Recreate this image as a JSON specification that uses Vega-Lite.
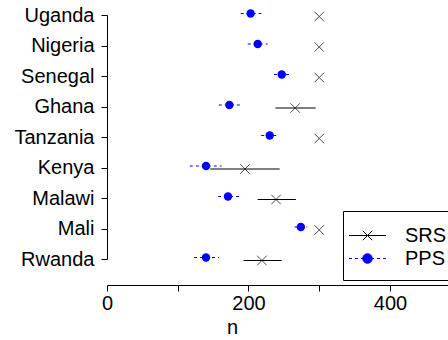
{
  "$schema": "https://vega.github.io/schema/vega-lite/v6.json",
  "autosize": "none",
  "width": 341,
  "height": 285,
  "padding": {"left": 107, "top": 0, "right": 0, "bottom": 55},
  "background": "white",
  "config": {
    "view": {"stroke": null},
    "font": "Liberation Sans",
    "axis": {
      "labelFont": "Liberation Sans",
      "titleFont": "Liberation Sans",
      "labelFontSize": 20,
      "titleFontSize": 20,
      "titleFontWeight": "normal",
      "labelColor": "black",
      "titleColor": "black",
      "domainColor": "black",
      "tickColor": "black",
      "domainWidth": 1,
      "tickWidth": 1,
      "tickSize": 6,
      "grid": false
    },
    "legend": {
      "labelFont": "Liberation Sans",
      "labelFontSize": 20,
      "labelColor": "black"
    }
  },
  "data": {
    "values": [
      {"country": "Uganda", "method": "SRS", "n": 300, "lo": 300, "hi": 300},
      {"country": "Nigeria", "method": "SRS", "n": 300, "lo": 300, "hi": 300},
      {"country": "Senegal", "method": "SRS", "n": 300, "lo": 300, "hi": 300},
      {"country": "Ghana", "method": "SRS", "n": 266, "lo": 238, "hi": 295},
      {"country": "Tanzania", "method": "SRS", "n": 300, "lo": 300, "hi": 300},
      {"country": "Kenya", "method": "SRS", "n": 195, "lo": 146, "hi": 244},
      {"country": "Malawi", "method": "SRS", "n": 239, "lo": 213, "hi": 267},
      {"country": "Mali", "method": "SRS", "n": 300, "lo": 300, "hi": 300},
      {"country": "Rwanda", "method": "SRS", "n": 219, "lo": 193, "hi": 247},
      {"country": "Uganda", "method": "PPS", "n": 203, "lo": 189, "hi": 218},
      {"country": "Nigeria", "method": "PPS", "n": 213, "lo": 199, "hi": 227},
      {"country": "Senegal", "method": "PPS", "n": 247, "lo": 236, "hi": 260},
      {"country": "Ghana", "method": "PPS", "n": 173, "lo": 158, "hi": 189},
      {"country": "Tanzania", "method": "PPS", "n": 230, "lo": 218, "hi": 241},
      {"country": "Kenya", "method": "PPS", "n": 140, "lo": 117, "hi": 162},
      {"country": "Malawi", "method": "PPS", "n": 171, "lo": 157, "hi": 187},
      {"country": "Mali", "method": "PPS", "n": 274, "lo": 265, "hi": 283},
      {"country": "Rwanda", "method": "PPS", "n": 140, "lo": 123, "hi": 158}
    ]
  },
  "encoding": {
    "y": {
      "field": "country",
      "type": "nominal",
      "sort": ["Uganda", "Nigeria", "Senegal", "Ghana", "Tanzania", "Kenya", "Malawi", "Mali", "Rwanda"],
      "scale": {"type": "point", "range": [15, 259], "padding": 0},
      "axis": {"title": null, "labelPadding": 7, "labelAlign": "right", "labelBaseline": "middle"}
    }
  },
  "layer": [
    {
      "transform": [{"filter": "datum.method == 'SRS'"}],
      "mark": {"type": "rule", "color": "black", "strokeWidth": 1, "yOffset": 1.5},
      "encoding": {
        "x": {
          "field": "lo",
          "type": "quantitative",
          "scale": {"domain": [0, 482], "nice": false, "zero": false},
          "axis": {
            "title": "n",
            "values": [0, 100, 200, 300, 400],
            "labelExpr": "datum.value % 200 == 0 ? datum.label : ''",
            "labelPadding": 2,
            "titlePadding": 4,
            "titleX": 125,
            "labelFlush": false
          }
        },
        "x2": {"field": "hi"}
      }
    },
    {
      "transform": [{"filter": "datum.method == 'PPS'"}],
      "mark": {"type": "rule", "color": "blue", "strokeWidth": 1, "strokeDash": [3, 3], "yOffset": -1.5},
      "encoding": {
        "x": {"field": "lo", "type": "quantitative"},
        "x2": {"field": "hi"}
      }
    },
    {
      "transform": [{"filter": "datum.method == 'SRS'"}],
      "mark": {"type": "point", "shape": "M-1,-1L1,1M-1,1L1,-1", "size": 90, "stroke": "black", "strokeWidth": 1, "filled": false, "yOffset": 1.5},
      "encoding": {
        "x": {"field": "n", "type": "quantitative"}
      }
    },
    {
      "transform": [{"filter": "datum.method == 'PPS'"}],
      "mark": {"type": "point", "shape": "circle", "size": 71, "fill": "blue", "filled": true, "opacity": 1, "yOffset": -1.5},
      "encoding": {
        "x": {"field": "n", "type": "quantitative"}
      }
    },
    {
      "mark": {"type": "point", "opacity": 0, "filled": true, "strokeWidth": 1},
      "encoding": {
        "x": {"field": "n", "type": "quantitative"},
        "shape": {
          "field": "method",
          "type": "nominal",
          "scale": {
            "domain": ["SRS", "PPS"],
            "range": [
              "M-1.48,0H1.48M-0.376,-0.376L0.376,0.376M-0.376,0.376L0.376,-0.376",
              "M-1.48,0H-1.24M-1,0H-0.76M-0.52,0H-0.28M0.28,0H0.52M0.76,0H1M1.24,0H1.48M-0.38,0A0.38,0.38 0 1,0 0.38,0A0.38,0.38 0 1,0 -0.38,0Z"
            ]
          },
          "legend": {
            "title": null,
            "orient": "none",
            "legendX": 236,
            "legendY": 211,
            "padding": 11.5,
            "strokeColor": "black",
            "fillColor": "white",
            "symbolSize": 625,
            "symbolStrokeWidth": 1,
            "symbolOpacity": 1,
            "labelOffset": 24.5,
            "rowPadding": 0,
            "labelBaseline": "middle"
          }
        },
        "color": {
          "field": "method",
          "type": "nominal",
          "scale": {"domain": ["SRS", "PPS"], "range": ["black", "blue"]}
        },
        "stroke": {
          "field": "method",
          "type": "nominal",
          "scale": {"domain": ["SRS", "PPS"], "range": ["black", "blue"]}
        },
        "size": {"value": 625}
      }
    }
  ]
}
